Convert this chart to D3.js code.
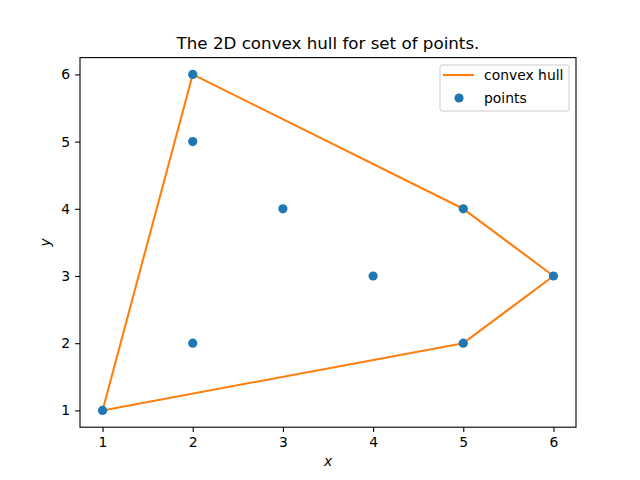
<!DOCTYPE html>
<html>
<head>
    <meta charset="UTF-8">
    <title>Convex hull</title>
    <script src="https://d3js.org/d3.v7.min.js"></script>
    <style>
        body { margin: 0; background: #fff; }
        text { font-family: "DejaVu Sans", sans-serif; }
    </style>
</head>
<body>
    <div class="canvas"></div>
    <script>
        // data
        const xs = [1, 2, 2, 2, 3, 4, 5, 5, 6];
        const ys = [1, 2, 5, 6, 4, 3, 2, 4, 3];
        const hullX = [1, 5, 6, 5, 2, 1];
        const hullY = [1, 2, 3, 4, 6, 1];
        const ticks = [1, 2, 3, 4, 5, 6];

        const width = 640, height = 480;
        const margin = { top: 57.6, right: 64, bottom: 52.8, left: 80 };
        const graphWidth = width - margin.left - margin.right;
        const graphHeight = height - margin.top - margin.bottom;

        const svg = d3.select(".canvas").append("svg")
            .attr("width", width)
            .attr("height", height);

        const graph = svg.append("g")
            .attr("transform", `translate(${margin.left}, ${margin.top})`);

        const xScale = d3.scaleLinear().domain([0.75, 6.25]).range([0, graphWidth]);
        const yScale = d3.scaleLinear().domain([0.75, 6.25]).range([graphHeight, 0]);

        const xAxis = d3.axisBottom(xScale).tickValues(ticks).tickSize(4.9).tickPadding(4.9).tickFormat(d3.format("d"));
        const yAxis = d3.axisLeft(yScale).tickValues(ticks).tickSize(4.9).tickPadding(4.9).tickFormat(d3.format("d"));

        const xg = graph.append("g").attr("transform", `translate(0, ${graphHeight})`).call(xAxis);
        const yg = graph.append("g").call(yAxis);
        [xg, yg].forEach(g => {
            g.select(".domain").remove();
            g.selectAll("line").attr("stroke", "#000").attr("stroke-width", 1.1);
            g.selectAll("text").attr("font-size", 13.9).attr("fill", "#000")
                .style("font-family", "DejaVu Sans, sans-serif");
        });

        // hull line
        const hull = hullX.map((x, i) => [x, hullY[i]]);
        graph.append("path")
            .datum(hull)
            .attr("fill", "none")
            .attr("stroke", "#ff7f0e")
            .attr("stroke-width", 2.08)
            .attr("stroke-linejoin", "round")
            .attr("d", d3.line().x(d => xScale(d[0])).y(d => yScale(d[1])));

        // points
        graph.selectAll("circle.pt")
            .data(xs.map((x, i) => [x, ys[i]]))
            .enter().append("circle")
            .attr("class", "pt")
            .attr("cx", d => xScale(d[0]))
            .attr("cy", d => yScale(d[1]))
            .attr("r", 4.6)
            .attr("fill", "#1f77b4");

        // frame
        graph.append("rect")
            .attr("width", graphWidth).attr("height", graphHeight)
            .attr("fill", "none").attr("stroke", "#000").attr("stroke-width", 1.1);

        // title & labels
        svg.append("text")
            .attr("x", margin.left + graphWidth / 2).attr("y", margin.top - 8.3)
            .attr("text-anchor", "middle").attr("font-size", 16.7)
            .text("The 2D convex hull for set of points.");
        svg.append("text")
            .attr("x", margin.left + graphWidth / 2).attr("y", 466)
            .attr("text-anchor", "middle").attr("font-size", 13.9).attr("font-style", "italic")
            .text("x");
        svg.append("text")
            .attr("transform", `translate(50, ${margin.top + graphHeight / 2}) rotate(-90)`)
            .attr("text-anchor", "middle").attr("font-size", 13.9).attr("font-style", "italic")
            .text("y");

        // legend
        const legend = graph.append("g").attr("transform", `translate(${graphWidth - 136}, 7.4)`);
        legend.append("rect")
            .attr("width", 129).attr("height", 46).attr("rx", 2)
            .attr("fill", "#fff").attr("fill-opacity", 0.8)
            .attr("stroke", "#ccc").attr("stroke-width", 1);
        legend.append("line")
            .attr("x1", 3).attr("x2", 34).attr("y1", 10).attr("y2", 10)
            .attr("stroke", "#ff7f0e").attr("stroke-width", 2.08);
        legend.append("text").attr("x", 44).attr("y", 15).attr("font-size", 13.9).text("convex hull");
        legend.append("circle").attr("cx", 19).attr("cy", 33).attr("r", 4.6).attr("fill", "#1f77b4");
        legend.append("text").attr("x", 44).attr("y", 38).attr("font-size", 13.9).text("points");
    </script>
</body>
</html>
